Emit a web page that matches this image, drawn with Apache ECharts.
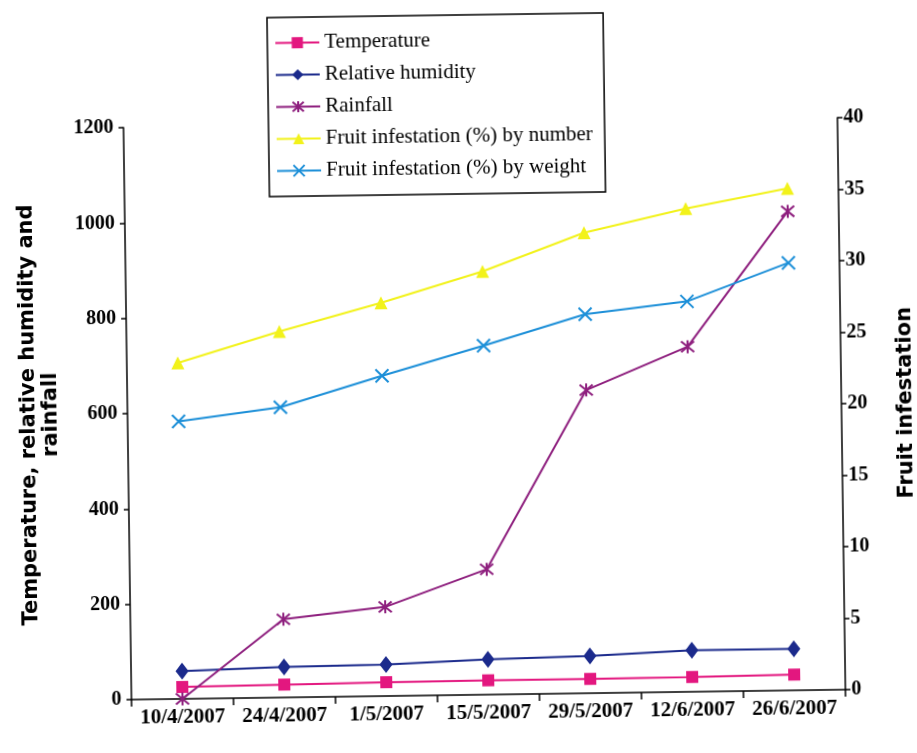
<!DOCTYPE html>
<html>
<head>
<meta charset="utf-8">
<script src="https://cdn.jsdelivr.net/npm/echarts@6/dist/echarts.min.js"></script>
<style>
  html, body { margin: 0; padding: 0; background: #fff; }
  #chart { width: 917px; height: 753px; transform: rotate(-0.8deg); }
</style>
</head>
<body>
<div id="chart"></div>
<script>
// Sampling dates
const categories = ['10/4/2007', '24/4/2007', '1/5/2007', '15/5/2007', '29/5/2007', '12/6/2007', '26/6/2007'];

// Weather (left axis)
const temperature = [25, 27, 29, 30, 30, 31, 33];
const humidity = [58, 64, 66, 74, 78, 87, 87];
const rainfall = [0, 164, 187, 263, 636, 724, 1005];

// Fruit infestation % (right axis)
const infestByNumber = [23.5, 25.6, 27.5, 29.6, 32.2, 33.8, 35.1];
const infestByWeight = [19.4, 20.3, 22.4, 24.4, 26.5, 27.3, 29.9];

// Axis ranges
const leftMax = 1200, leftStep = 200;
const rightMax = 40, rightStep = 5;

const seriesNames = [
  'Temperature',
  'Relative humidity',
  'Rainfall',
  'Fruit infestation (%) by number',
  'Fruit infestation (%) by weight'
];

const crossMark = 'path://M0,0L10,10M10,0L0,10';
const starMark = 'path://M0,0L10,10M10,0L0,10M5,-1L5,11';

const serifBold = { fontFamily: 'Liberation Serif', fontWeight: 'bold', fontSize: 20, color: '#000' };

function lineSeries(name, data, color, symbol, size, axisIndex, stroked) {
  return {
    name: name,
    type: 'line',
    yAxisIndex: axisIndex,
    data: data,
    symbol: symbol,
    symbolSize: size,
    showAllSymbol: true,
    lineStyle: { color: color, width: 2 },
    itemStyle: stroked
      ? { color: color, borderColor: color, borderWidth: 2 }
      : { color: color, borderWidth: 0 },
    z: 3
  };
}

const chart = echarts.init(document.getElementById('chart'), null, { renderer: 'canvas' });

chart.setOption({
  backgroundColor: '#fff',
  animation: false,
  legend: {
    data: seriesNames,
    orient: 'vertical',
    left: 272,
    top: 15,
    padding: [15, 12, 15, 7],
    itemGap: 11,
    itemWidth: 44,
    itemHeight: 14,
    borderColor: '#000',
    borderWidth: 1.5,
    textStyle: { fontFamily: 'Liberation Serif', fontSize: 21, color: '#000', lineHeight: 20 }
  },
  grid: { left: 127, right: 76, top: 123, bottom: 58, containLabel: false, outerBoundsMode: 'none' },
  xAxis: {
    type: 'category',
    data: categories,
    boundaryGap: true,
    axisLine: { lineStyle: { color: '#000', width: 1.5 } },
    axisTick: { show: true, length: 7, lineStyle: { color: '#000', width: 1.5 } },
    axisLabel: Object.assign({ margin: 8, interval: 0 }, serifBold, { fontSize: 21 }),
    splitLine: { show: false }
  },
  yAxis: [
    {
      type: 'value',
      min: 0, max: leftMax, interval: leftStep,
      position: 'left',
      name: 'Temperature, relative humidity and\nrainfall',
      nameLocation: 'middle',
      nameGap: 65,
      nameRotate: 90,
      nameTextStyle: { fontFamily: 'DejaVu Sans', fontWeight: 'bold', fontSize: 21, color: '#000', lineHeight: 22 },
      axisLine: { show: true, lineStyle: { color: '#000', width: 1.5 } },
      axisTick: { show: true, length: 5, lineStyle: { color: '#000', width: 1.5 } },
      axisLabel: Object.assign({ margin: 10, formatter: function (v) { return String(v); } }, serifBold),
      splitLine: { show: false }
    },
    {
      type: 'value',
      min: 0, max: rightMax, interval: rightStep,
      position: 'right',
      name: 'Fruit infestation',
      nameLocation: 'middle',
      nameGap: 54,
      nameRotate: 90,
      nameTextStyle: { fontFamily: 'DejaVu Sans', fontWeight: 'bold', fontSize: 21, color: '#000' },
      axisLine: { show: true, lineStyle: { color: '#000', width: 1.5 } },
      axisTick: { show: true, length: 5, lineStyle: { color: '#000', width: 1.5 } },
      axisLabel: Object.assign({ margin: 6 }, serifBold),
      splitLine: { show: false }
    }
  ],
  series: [
    lineSeries(seriesNames[0], temperature, '#E3177F', 'rect', 12, 0, false),
    lineSeries(seriesNames[1], humidity, '#1B2A8C', 'diamond', [13, 17], 0, false),
    lineSeries(seriesNames[2], rainfall, '#8E1F7E', starMark, 13, 0, true),
    lineSeries(seriesNames[3], infestByNumber, '#F2F21A', 'triangle', 13, 1, false),
    lineSeries(seriesNames[4], infestByWeight, '#1C8FD8', crossMark, 13, 1, true)
  ]
});
</script>
</body>
</html>
